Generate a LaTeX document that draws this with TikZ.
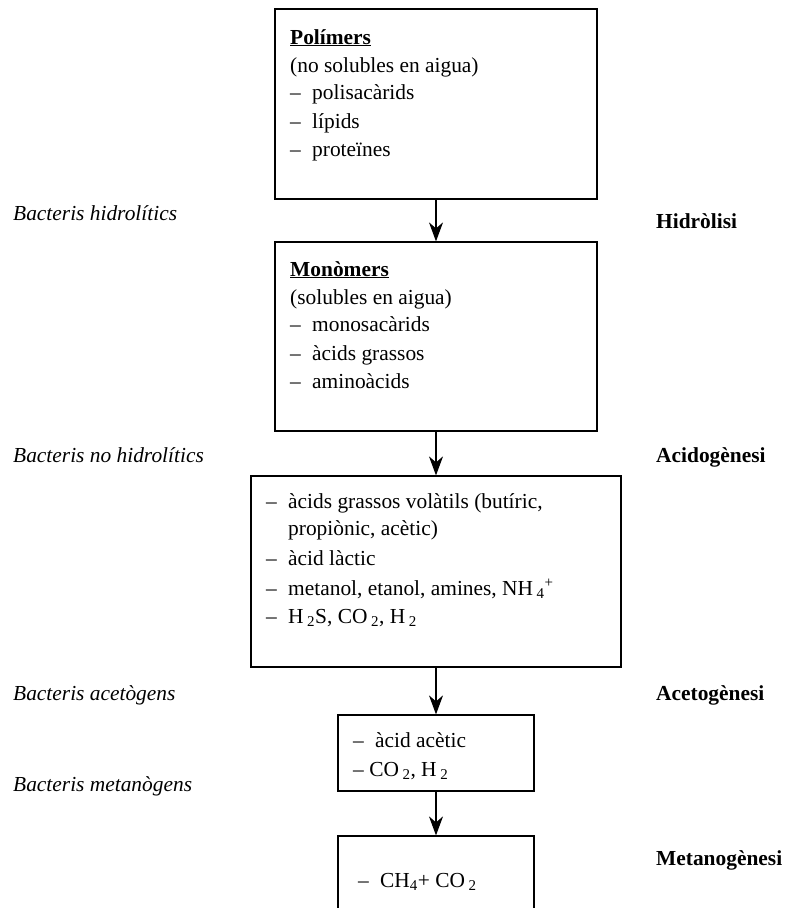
\documentclass[tikz,border=0pt]{standalone}
\usepackage{fontspec}
\setmainfont{Liberation Serif}
\usetikzlibrary{arrows.meta}

\newcommand{\guio}{\makebox[22pt][l]{–}}
\newcommand{\sub}[1]{\,\textsubscript{#1}}

\tikzset{
  box/.style={draw, line width=1.2pt, inner sep=0pt},
  flow/.style={-{Stealth[length=19pt,width=14pt,inset=6pt]}, line width=1.2pt},
  txt/.style={anchor=base west, inner sep=0pt, font=\fontsize{21.4}{26}\selectfont},
  bact/.style={txt, font=\fontsize{21.4}{26}\selectfont\itshape},
  fase/.style={txt, font=\fontsize{21.4}{26}\selectfont\bfseries},
}

\begin{document}
\begin{tikzpicture}[x=1pt,y=-1pt]
			\useasboundingbox (0,0) rectangle (786,908);
			\clip (0,0) rectangle (786,908);
			% caixes
			\node[box, minimum width=322pt, minimum height=190pt] (poli) at (436,104) {};
			\node[box, minimum width=322pt, minimum height=189pt] (mono) at (436,336.5) {};
			\node[box, minimum width=370pt, minimum height=191pt] (acid) at (436,571.5) {};
			\node[box, minimum width=196pt, minimum height=76pt] (acet) at (436,753) {};
			\node[box, minimum width=196pt, minimum height=124pt] (meta) at (436,898) {};
			\draw[flow] (poli) -- (mono);
			\draw[flow] (mono) -- (acid);
			\draw[flow] (acid) -- (acet);
			\draw[flow] (acet) -- (meta);
			% textos de les caixes
			\node[txt] (poli1) at (290,44) {\underline{\textbf{Polímers}}};
			\node[txt] (poli2) at (290,72) {(no solubles en aigua)};
			\node[txt] (poli3) at (290,99) {\guio polisacàrids};
			\node[txt] (poli4) at (290,128) {\guio lípids};
			\node[txt] (poli5) at (290,156) {\guio proteïnes};
			\node[txt] (mono1) at (290,276) {\underline{\textbf{Monòmers}}};
			\node[txt] (mono2) at (290,304) {(solubles en aigua)};
			\node[txt] (mono3) at (290,331) {\guio monosacàrids};
			\node[txt] (mono4) at (290,360) {\guio àcids grassos};
			\node[txt] (mono5) at (290,388) {\guio aminoàcids};
			\node[txt] (acid1) at (266,508) {\guio àcids grassos volàtils (butíric,};
			\node[txt] (acid2) at (288,535) {propiònic, acètic)};
			\node[txt] (acid3) at (266,565) {\guio àcid làctic};
			\node[txt] (acid4) at (266,595) {\guio metanol, etanol, amines, NH\sub{4}\textsuperscript{+}};
			\node[txt] (acid5) at (266,623) {\guio H\sub{2}S, CO\sub{2}, H\sub{2}};
			\node[txt] (acet1) at (353,747) {\guio àcid acètic};
			\node[txt] (acet2) at (353,776) {– CO\sub{2}, H\sub{2}};
			\node[txt] (meta1) at (358,887) {\guio CH\textsubscript{4}+ CO\sub{2}};
			% bacteris
			\node[bact] (bhid) at (13,220) {Bacteris hidrolítics};
			\node[bact] (bnoh) at (13,462) {Bacteris no hidrolítics};
			\node[bact] (bace) at (13,700) {Bacteris acetògens};
			\node[bact] (bmet) at (13,791) {Bacteris metanògens};
			% fases
			\node[fase] (fhid) at (656,228) {Hidròlisi};
			\node[fase] (faci) at (656,462) {Acidogènesi};
			\node[fase] (face) at (656,700) {Acetogènesi};
			\node[fase] (fmet) at (656,865) {Metanogènesi};
\end{tikzpicture}
\end{document}
